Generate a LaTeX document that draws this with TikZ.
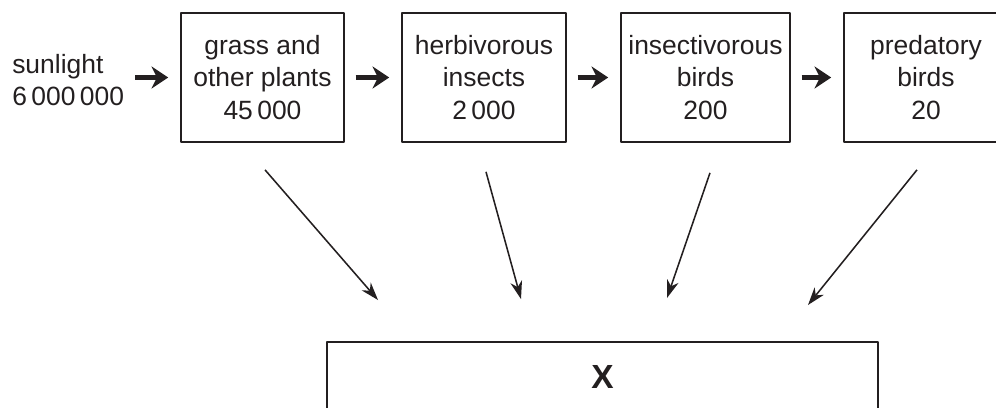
\documentclass[tikz,border=0pt]{standalone}
\usepackage{fontspec}
\setmainfont{Liberation Sans}
\usepackage{xcolor}
\usetikzlibrary{arrows.meta,positioning}
\definecolor{ink}{HTML}{231F20}

\begin{document}
\begin{tikzpicture}[line join=round,
  stage/.style={draw=ink,line width=1.2pt,align=center,inner sep=0pt,
    minimum height=3.225cm,text=ink,font=\fontsize{18.8}{22.8}\selectfont},
  pass/.style={draw=ink,line width=4.2pt,shorten <=0.27cm,shorten >=0.3cm,
    -{Stealth[length=0.42cm,width=0.56cm,inset=0.14cm,line width=0pt]}},
  flow/.style={draw=ink,line width=1.1pt,
    -{Stealth[length=0.45cm,width=0.3cm,inset=0.14cm,line width=0pt]}}]
  \useasboundingbox (0,0) rectangle (24.9,-10.175);
  \node[anchor=west,inner sep=0pt,align=left,text=ink,
    font=\fontsize{18.8}{22.8}\selectfont] (sun) at (0.3,-2.0125) {sunlight\\6\,000\,000};
  \node[stage,minimum width=4.075cm] (grass) at (6.5625,-1.9375) {grass and\\other plants\\45\,000};
  \node[stage,minimum width=4.1cm] (herbi) at (12.1,-1.9375) {herbivorous\\insects\\2\,000};
  \node[stage,minimum width=4.225cm] (insecti) at (17.6375,-1.9375) {insectivorous\\birds\\200};
  \node[stage,minimum width=4.1cm] (predator) at (23.15,-1.9375) {predatory\\birds\\20};
  \node[draw=ink,line width=1.2pt,minimum width=13.775cm,minimum height=1.75cm,inner sep=0pt,
    text=ink,font=\fontsize{23.8}{28}\selectfont\bfseries] (sink) at (15.0625,-9.425) {X};
  \coordinate (S1) at ([xshift=0.0625cm,yshift=-0.675cm]grass.south);
  \coordinate (S2) at ([xshift=0.05cm,yshift=-0.725cm]herbi.south);
  \coordinate (S3) at ([xshift=0.1125cm,yshift=-0.75cm]insecti.south);
  \coordinate (S4) at ([xshift=-0.225cm,yshift=-0.675cm]predator.south);
  \coordinate (T1) at (9.450,-7.500);
  \coordinate (T2) at (13.025,-7.475);
  \coordinate (T3) at (16.675,-7.450);
  \coordinate (T4) at (20.200,-7.625);
  \draw[pass] (sun.east |- grass.west) -- (grass.west);
  \draw[pass] (grass.east) -- (herbi.west);
  \draw[pass] (herbi.east) -- (insecti.west);
  \draw[pass] (insecti.east) -- (predator.west);
  \draw[flow] (S1) -- (T1);
  \draw[flow] (S2) -- (T2);
  \draw[flow] (S3) -- (T3);
  \draw[flow] (S4) -- (T4);
\end{tikzpicture}
\end{document}
